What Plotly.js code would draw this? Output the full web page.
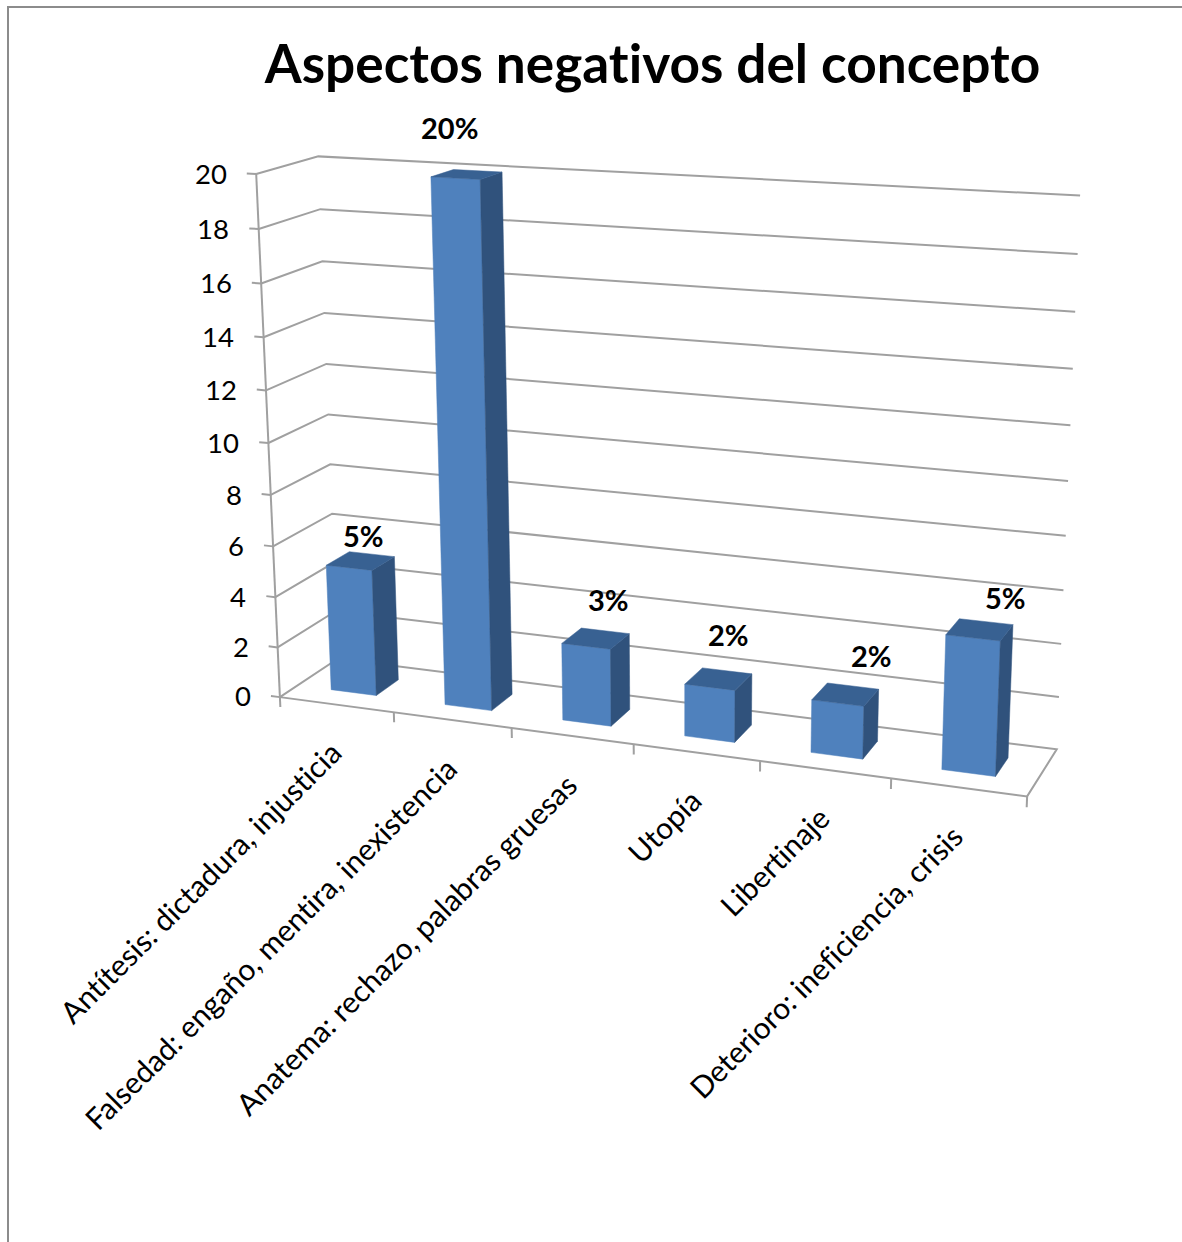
<!DOCTYPE html>
<html>
<head>
<meta charset="utf-8">
<script src="https://cdn.plot.ly/plotly-3.0.1.min.js"></script>
<style>
html,body{margin:0;padding:0;background:#fff}
#chart{width:1182px;height:1242px}
svg text{font-variant-ligatures:none;font-feature-settings:"liga" 0}
</style>
</head>
<body>
<div id="chart"></div>
<script>
// Chart content
const chartTitle = 'Aspectos negativos del concepto';
const categories = [
  'Antítesis: dictadura, injusticia',
  'Falsedad: engaño, mentira, inexistencia',
  'Anatema: rechazo, palabras gruesas',
  'Utopía',
  'Libertinaje',
  'Deterioro: ineficiencia, crisis'
];
const values = [5, 20, 3, 2, 2, 5];
const valueLabels = ['5%', '20%', '3%', '2%', '2%', '5%'];
const valueTicks = [0, 2, 4, 6, 8, 10, 12, 14, 16, 18, 20];

// Offsets of each value label from the centre of its bar's top face
const labelOffsetX = [3, -17, 13, 10, 26, 26];
const labelOffsetY = [-25, -47, -39, -44, -39, -32];

// Reference points of the perspective box: [category, value, depth] -> page position
const boxPoints = [
  [[0, 0, 0], [280, 697]], [[0, 6, 0], [273, 546]], [[0, 20, 0], [256.7, 173.5]],
  [[0, 20, 1], [318, 157]], [[0, 18, 1], [320, 209]], [[0, 6, 1], [332, 513]], [[0, 0, 1], [338, 660]],
  [[6, 20, 1], [1080, 196]], [[6, 18, 1], [1078, 254]], [[6, 0, 1], [1057, 748]],
  [[6, 0, 0], [1027, 797]], [[1, 0, 0], [394, 712]], [[2, 0, 0], [512, 728]],
  [[3, 0, 0], [633, 744]], [[4, 0, 0], [760, 761]], [[5, 0, 0], [891, 779]]
];

// Least-squares fit of a projective camera through the reference points
function fitCamera(points) {
  const rows = [], rhs = [];
  points.forEach(([[c, v, d], [px, py]]) => {
    const X = c / 6, Y = v / 20, Z = d;
    rows.push([X, Y, Z, 1, 0, 0, 0, 0, -px * X, -px * Y, -px * Z]); rhs.push(px);
    rows.push([0, 0, 0, 0, X, Y, Z, 1, -py * X, -py * Y, -py * Z]); rhs.push(py);
  });
  const n = 11;
  const m = [];
  for (let i = 0; i < n; i++) {
    m.push([]);
    for (let j = 0; j < n; j++) m[i].push(rows.reduce((s, r) => s + r[i] * r[j], 0));
    m[i].push(rows.reduce((s, r, k) => s + r[i] * rhs[k], 0));
  }
  for (let i = 0; i < n; i++) {
    let p = i;
    for (let k = i + 1; k < n; k++) if (Math.abs(m[k][i]) > Math.abs(m[p][i])) p = k;
    [m[i], m[p]] = [m[p], m[i]];
    for (let k = 0; k < n; k++) {
      if (k === i) continue;
      const f = m[k][i] / m[i][i];
      for (let j = i; j <= n; j++) m[k][j] -= f * m[i][j];
    }
  }
  return m.map((r, i) => r[n] / r[i]);
}
const cam = fitCamera(boxPoints);
function project(c, v, d) {
  const X = c / 6, Y = v / 20, Z = d;
  const w = cam[8] * X + cam[9] * Y + cam[10] * Z + 1;
  return [(cam[0] * X + cam[1] * Y + cam[2] * Z + cam[3]) / w,
          (cam[4] * X + cam[5] * Y + cam[6] * Z + cam[7]) / w];
}

const traces = [];
const frameColor = '#8c8c8c', gridColor = '#a0a0a0';
const FRONT = '#4f81bd', SIDE = '#30527c', TOP = '#386192';

function polyline(pts, color, width) {
  const xy = pts.map(p => project(p[0], p[1], p[2]));
  traces.push({
    type: 'scatter', mode: 'lines', hoverinfo: 'skip', showlegend: false,
    x: xy.map(p => p[0]), y: xy.map(p => p[1]),
    line: {color: color, width: width}
  });
}
function face(pts, color) {
  const xy = pts.map(p => project(p[0], p[1], p[2]));
  xy.push(xy[0]);
  traces.push({
    type: 'scatter', mode: 'lines', hoverinfo: 'skip', showlegend: false, fill: 'toself',
    fillcolor: color, x: xy.map(p => p[0]), y: xy.map(p => p[1]),
    line: {color: color, width: 0.5}
  });
}

// Gridlines run along the side wall and the back wall
valueTicks.forEach(v => {
  if (v > 0) polyline([[0, v, 0], [0, v, 1], [6, v, 1]], gridColor, 2);
});
// Floor outline, value axis and tick marks
polyline([[0, 0, 0], [6, 0, 0], [6, 0, 1], [0, 0, 1], [0, 0, 0]], gridColor, 2);
polyline([[0, 0, 0], [0, 20, 0]], gridColor, 2);
valueTicks.forEach(v => polyline([[-0.08, v, 0], [0, v, 0]], gridColor, 2));
categories.forEach((_, i) => polyline([[i + 1, 0, 0], [i + 1, -0.4, 0]], gridColor, 2));
polyline([[0, 0, 0], [0, -0.4, 0]], gridColor, 2);

// Bars: front, side and top faces
const barMin = 0.3, barMax = 0.7;
values.forEach((val, i) => {
  const a = i + barMin, b = i + barMax;
  face([[a, 0, barMin], [b, 0, barMin], [b, val, barMin], [a, val, barMin]], FRONT);
  face([[b, 0, barMin], [b, 0, barMax], [b, val, barMax], [b, val, barMin]], SIDE);
  face([[a, val, barMin], [b, val, barMin], [b, val, barMax], [a, val, barMax]], TOP);
});

const annotations = [];
const FONT = 'Lato, Carlito, Calibri, sans-serif';

// Value axis labels
valueTicks.forEach(v => {
  const p = project(-0.08, v, 0);
  annotations.push({
    x: p[0] - 18, y: p[1], xref: 'x', yref: 'y', xanchor: 'right', yanchor: 'middle',
    text: String(v), showarrow: false, font: {family: FONT, size: 27.5, color: '#000'}
  });
});
// Slanted category labels
categories.forEach((label, i) => {
  const p = project(i + 0.5, 0, 0);
  annotations.push({
    x: p[0] + 14, y: p[1] + 27, xref: 'x', yref: 'y', xanchor: 'right', yanchor: 'top',
    text: label, textangle: -45, showarrow: false, font: {family: FONT, size: 30, color: '#000'}
  });
});
// Value labels above the bars
values.forEach((val, i) => {
  const p = project(i + 0.5, val, 0.5);
  annotations.push({
    x: p[0] + labelOffsetX[i], y: p[1] + labelOffsetY[i], xref: 'x', yref: 'y',
    xanchor: 'center', yanchor: 'middle', text: '<b>' + valueLabels[i] + '</b>', showarrow: false,
    font: {family: FONT, size: 29, color: '#000'}
  });
});

const layout = {
  width: 1182, height: 1242,
  margin: {l: 0, r: 0, t: 0, b: 0},
  paper_bgcolor: '#fff', plot_bgcolor: '#fff',
  showlegend: false,
  title: {
    text: '<b>' + chartTitle + '</b>', x: 652.5 / 1182, xanchor: 'center',
    y: 1 - 64 / 1242, yanchor: 'middle', font: {family: FONT, size: 53.2, color: '#000'}
  },
  xaxis: {range: [0, 1182], visible: false, fixedrange: true},
  yaxis: {range: [1242, 0], visible: false, fixedrange: true},
  annotations: annotations,
  shapes: [
    {type: 'line', xref: 'x', yref: 'y', x0: 7, x1: 1182, y0: 7, y1: 7, line: {color: frameColor, width: 2}},
    {type: 'line', xref: 'x', yref: 'y', x0: 8, x1: 8, y0: 7, y1: 1242, line: {color: frameColor, width: 2}}
  ]
};
Plotly.newPlot('chart', traces, layout, {displayModeBar: false, staticPlot: true});
</script>
</body>
</html>
